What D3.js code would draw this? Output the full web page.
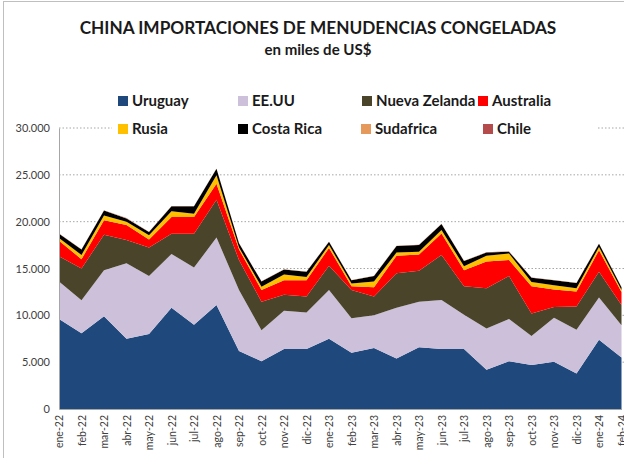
<!DOCTYPE html>
<html><head><meta charset="utf-8">
<script src="https://cdn.jsdelivr.net/npm/d3@7"></script>
<style>body{margin:0;background:#fff}svg{display:block}</style>
</head><body>
<svg id="c" width="624" height="458"></svg>
<script>
const months = ["ene-22","feb-22","mar-22","abr-22","may-22","jun-22","jul-22","ago-22","sep-22","oct-22","nov-22","dic-22",
  "ene-23","feb-23","mar-23","abr-23","may-23","jun-23","jul-23","ago-23","sep-23","oct-23","nov-23","dic-23","ene-24","feb-24"];
const uruguay   = [9600,8100,9900,7500,8000,10800,9000,11100,6200,5100,6400,6400,7500,6000,6500,5400,6600,6400,6400,4200,5100,4700,5050,3800,7400,5500];
const eeuu      = [4000,3500,4900,8050,6200,5750,6100,7200,6500,3300,4100,3900,5200,3700,3500,5400,4850,5250,3650,4400,4500,3100,4700,4650,4500,3450];
const nuevaZelanda = [2700,3400,3800,2500,3050,2150,3600,4050,3200,3050,1700,1700,2600,3000,2000,3700,3300,4800,3050,4300,4600,2400,1150,2500,2750,2150];
const australia = [1650,1000,1550,1600,850,1800,1800,1700,1150,1250,1550,1750,1900,400,1000,1850,1750,2300,1700,2850,1700,2900,1850,1600,2300,1400];
const rusia     = [300,430,500,350,450,600,350,900,200,350,600,350,300,300,600,350,300,350,450,600,700,450,450,350,350,200];
const costaRica = [450,600,550,350,350,550,800,700,450,550,550,550,350,350,600,700,700,650,550,350,200,450,550,550,350,300];
const sudafrica = [20,20,20,20,20,20,20,20,20,20,20,20,20,20,20,20,20,20,20,20,20,20,20,20,20,20];
const chile     = [10,10,10,10,10,10,10,10,10,10,10,10,10,10,10,10,10,10,10,10,10,10,10,10,10,10];
const yTicks = [0,5000,10000,15000,20000,25000,30000];
const seriesNames = ["Uruguay","EE.UU","Nueva Zelanda","Australia","Rusia","Costa Rica","Sudafrica","Chile"];
const seriesValues = [uruguay,eeuu,nuevaZelanda,australia,rusia,costaRica,sudafrica,chile];
const colors = ["#1F497D","#CCC0DA","#4A452A","#FF0000","#FFC000","#000000","#E59A5C","#B54B4B"];

const svg = d3.select("#c");
const font = "Lato, 'Open Sans', sans-serif";

// frame
svg.append("rect").attr("x",3.5).attr("y",1.5).attr("width",640).attr("height",470)
  .attr("fill","none").attr("stroke","#bfbfbf").attr("stroke-width",1);

const x = d3.scalePoint().domain(months).range([59,621.5]);
const y = d3.scaleLinear().domain([0,30000]).range([409,128]);

// gridlines
svg.append("g").selectAll("line").data(yTicks.filter(d=>d>0)).join("line")
  .attr("x1",59).attr("x2",624).attr("y1",d=>y(d)).attr("y2",d=>y(d))
  .attr("stroke","#a6a6a6").attr("stroke-width",1).attr("stroke-dasharray","1.5,2");

// stacked data
const table = months.map((m,i)=>{const o={month:m}; seriesNames.forEach((s,j)=>o[s]=seriesValues[j][i]); return o;});
const stack = d3.stack().keys(seriesNames)(table);
const area = d3.area().x(d=>x(d.data.month)).y0(d=>y(d[0])).y1(d=>y(d[1]));
svg.append("g").selectAll("path").data(stack).join("path")
  .attr("d",area).attr("fill",(d,i)=>colors[i]);

// y axis
const yAxis = d3.axisLeft(y).tickValues(yTicks).tickSize(0).tickPadding(9)
  .tickFormat(d=>d===0?"0":d3.format(",")(d).replace(/,/g,"."));
const ga = svg.append("g").attr("transform","translate(59,0)").call(yAxis);
ga.select(".domain").attr("stroke","#a6a6a6");
ga.selectAll("text").attr("font-family",font).attr("font-size",11).attr("fill","#404040");

// x axis
const xAxis = d3.axisBottom(x).tickSize(0).tickPadding(0);
const gx = svg.append("g").attr("transform","translate(0,409)").call(xAxis);
gx.select(".domain").attr("stroke","#a6a6a6");
gx.selectAll("text").attr("font-family",font).attr("font-size",10.5).attr("fill","#404040")
  .attr("text-anchor","end").attr("transform","rotate(-90)").attr("x",-6).attr("y",0).attr("dy","0.35em");

// title
function fit(t, w){ const l=t.node().getComputedTextLength(); const fs=parseFloat(t.attr("font-size")); t.attr("font-size",fs*w/l); }
const title = svg.append("text").attr("x",318).attr("y",34).attr("text-anchor","middle")
  .attr("font-family",font).attr("font-weight","bold").attr("font-size",16).attr("fill","#1a1a1a")
  .text("CHINA IMPORTACIONES DE MENUDENCIAS CONGELADAS");
fit(title,477);
const sub = svg.append("text").attr("x",318).attr("y",55).attr("text-anchor","middle")
  .attr("font-family",font).attr("font-weight","bold").attr("font-size",12).attr("fill","#1a1a1a")
  .text("en miles de US$");
fit(sub,107);

// legend
const legPos = [[118,101],[238,101],[362,101],[478,101],[118,129],[238,129],[361,129],[483,129]];
svg.append("rect").attr("x",112).attr("y",118).attr("width",485).attr("height",22).attr("fill","#fff");
const lg = svg.append("g").selectAll("g").data(seriesNames).join("g")
  .attr("transform",(d,i)=>`translate(${legPos[i][0]},${legPos[i][1]})`);
lg.append("rect").attr("x",0).attr("y",-5).attr("width",10).attr("height",10).attr("fill",(d,i)=>colors[i]);
lg.append("text").attr("x",14).attr("y",0).attr("dy","0.35em").attr("font-family",font)
  .attr("font-weight","bold").attr("font-size",15).attr("fill","#1a1a1a").text(d=>d);
</script>
</body></html>
